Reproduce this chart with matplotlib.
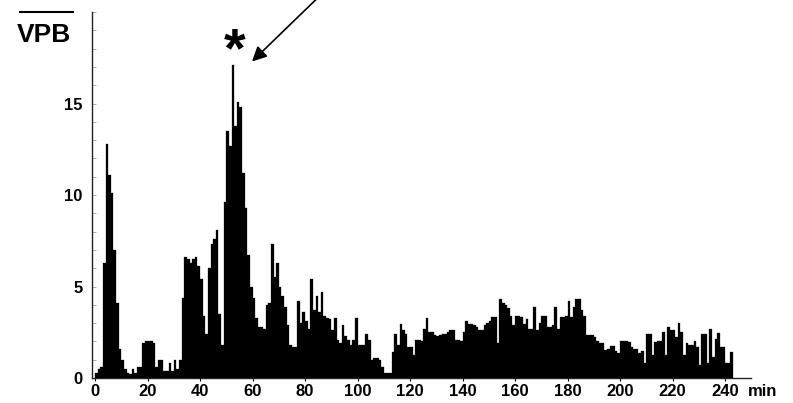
import matplotlib

matplotlib.use("Agg")
import matplotlib.pyplot as plt
import numpy as np
from matplotlib.lines import Line2D

# VPB count per one-minute bin, minute 0 .. 242
vpb_per_min = [
    0.3, 0.5, 0.6, 6.3, 12.8, 11.1, 10.1, 7.0, 4.1, 1.6,
    1.0, 0.5, 0.3, 0.2, 0.5, 0.3, 0.6, 0.6, 1.9, 2.0,
    2.0, 2.0, 1.9, 0.6, 1.0, 1.0, 0.4, 0.4, 0.8, 0.4,
    1.0, 0.5, 1.0, 4.4, 6.6, 6.5, 6.3, 6.5, 6.6, 6.1,
    5.4, 3.4, 2.4, 6.0, 7.3, 7.6, 8.1, 3.5, 1.8, 9.6,
    13.5, 12.7, 17.1, 13.8, 15.1, 14.8, 11.2, 9.3, 6.7, 5.0,
    4.4, 3.3, 2.8, 2.8, 2.7, 4.0, 4.1, 7.3, 5.5, 6.3,
    5.0, 4.5, 3.9, 2.9, 1.8, 1.7, 1.7, 4.2, 3.0, 3.6,
    3.1, 2.7, 5.4, 3.7, 4.5, 3.6, 4.7, 3.4, 3.3, 3.2,
    2.6, 3.3, 2.1, 1.9, 2.9, 2.3, 2.1, 1.8, 2.1, 3.3,
    1.8, 1.8, 1.8, 2.4, 2.1, 1.0, 1.1, 1.1, 1.0, 0.6,
    0.3, 0.3, 0.3, 1.4, 2.4, 1.8, 2.95, 2.6, 2.4, 1.7,
    1.7, 1.25, 2.1, 2.1, 2.0, 2.7, 3.3, 2.5, 2.5, 2.35,
    2.3, 2.35, 2.4, 2.4, 2.5, 2.6, 2.65, 2.1, 2.1, 2.0,
    2.5, 3.1, 2.95, 2.95, 2.9, 2.8, 2.65, 2.65, 2.9, 3.0,
    3.1, 3.35, 3.35, 1.9, 4.3, 4.1, 4.0, 3.8, 3.4, 2.9,
    3.4, 3.4, 3.35, 2.95, 3.25, 2.7, 2.7, 3.9, 2.6, 3.0,
    3.4, 3.4, 2.8, 2.8, 2.9, 3.9, 2.7, 3.35, 3.35, 3.4,
    4.2, 3.35, 3.9, 4.3, 4.3, 3.7, 3.4, 2.35, 2.35, 2.35,
    2.25, 2.0, 1.9, 1.9, 1.55, 1.6, 1.75, 1.75, 1.5, 1.35,
    2.0, 2.0, 2.0, 1.95, 1.7, 1.6, 1.6, 1.35, 1.5, 0.8,
    2.4, 2.4, 1.25, 1.95, 2.0, 2.0, 2.5, 1.25, 2.8, 2.6,
    2.6, 2.25, 3.0, 2.5, 1.25, 1.9, 1.8, 1.8, 2.0, 1.7,
    0.7, 2.4, 2.4, 0.8, 2.7, 1.15, 2.15, 2.45, 1.7, 1.7,
    0.8, 0.8, 1.4,
]
minutes = np.arange(len(vpb_per_min))

x_ticks = [0, 20, 40, 60, 80, 100, 120, 140, 160, 180, 200, 220, 240]
y_ticks = [0, 5, 10, 15]
y_minor_ticks = list(range(0, 21))
peak_minute = 52

plt.rcParams["font.family"] = ["Liberation Sans", "DejaVu Sans"]

fig = plt.figure(figsize=(7.93, 4.03), dpi=100)
ax = fig.add_axes([0.1165, 0.062, 0.831, 0.908])
ax.bar(minutes, vpb_per_min, width=1.0, align="edge", color="black",
       edgecolor="black", linewidth=0.2)

ax.set_xlim(-1, 250)
ax.set_ylim(0, 20)
for side in ("top", "right"):
    ax.spines[side].set_visible(False)
for side in ("left", "bottom"):
    ax.spines[side].set_linewidth(1.0)
    ax.spines[side].set_color("#222222")

ax.set_xticks(x_ticks)
ax.set_yticks(y_ticks)
ax.set_yticks(y_minor_ticks, minor=True)
ax.tick_params(axis="x", direction="out", length=2.5, width=0.8, pad=1.5,
               labelsize=12)
ax.tick_params(axis="y", which="both", direction="in", length=3, width=0.7,
               color="#aaaaaa", pad=7, labelsize=12)
for label in ax.get_xticklabels() + ax.get_yticklabels():
    label.set_fontweight("bold")

ax.annotate("min", xy=(248.5, 0), xycoords=ax.get_xaxis_transform(),
            xytext=(0, -4), textcoords="offset points", ha="left", va="top",
            fontsize=12, fontweight="bold")

# y-axis title with overline
fig.text(17 / 793, 1 - 42 / 403, "VPB", fontsize=19, fontweight="bold",
         ha="left", va="baseline")
fig.add_artist(Line2D([20 / 793, 73 / 793], [1 - 12 / 403] * 2,
                      transform=fig.transFigure, color="black", lw=1.5))

# asterisk and arrow marking the peak
ax.text(peak_minute + 1, 17.8, "*", ha="center", va="center", fontsize=40,
        fontweight="bold")
ax.annotate("", xy=(59.8, 17.3), xytext=(85.7, 20.9),
            arrowprops=dict(arrowstyle="-|>", color="black", lw=1.2,
                            mutation_scale=22, shrinkA=0, shrinkB=0),
            annotation_clip=False)

fig.savefig("out.png", dpi=100)
